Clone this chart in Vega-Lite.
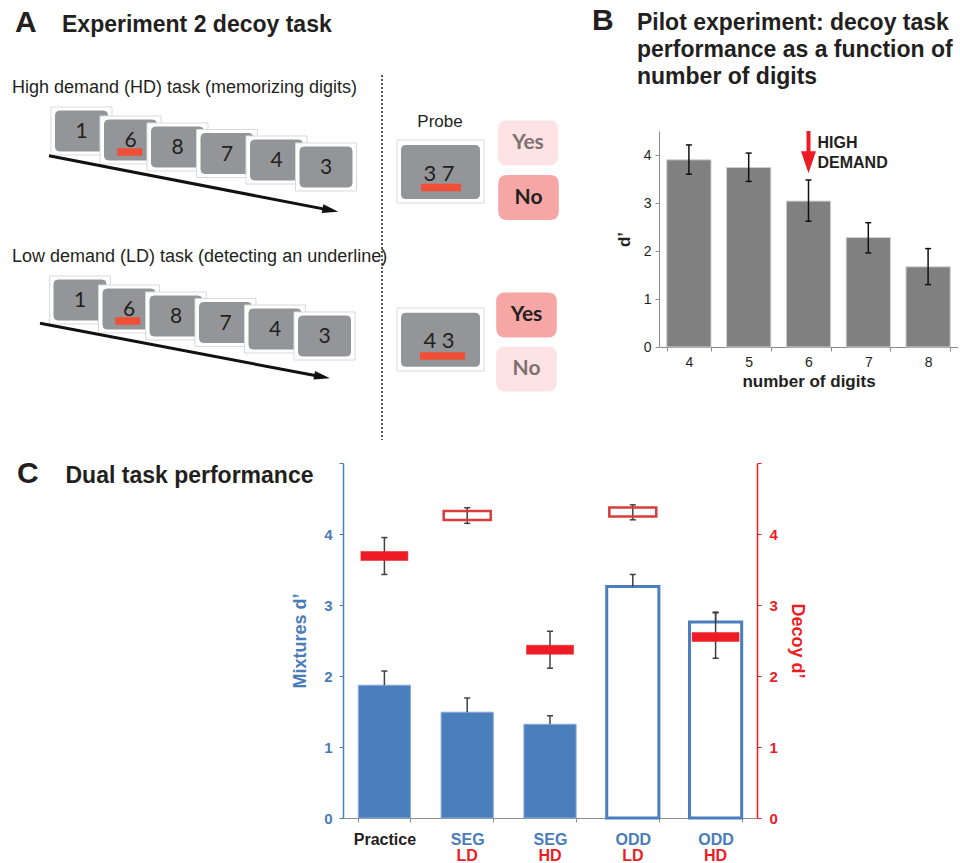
{
  "$schema": "https://vega.github.io/schema/vega-lite/v6.json",
  "padding": 0,
  "background": "white",
  "align": "each",
  "spacing": 0,
  "config": {
    "view": {"stroke": null},
    "font": "Liberation Sans",
    "tick": {"opacity": 1},
    "point": {"opacity": 1},
    "axis": {"grid": false, "labelFont": "Liberation Sans", "titleFont": "Liberation Sans"}
  },
  "vconcat": [
    {
      "hconcat": [
        {
          "width": 659,
          "height": 457.5,
          "encoding": {
            "x": {"field": "x", "type": "quantitative", "scale": {"domain": [0, 659], "nice": false, "zero": false}, "axis": null},
            "y": {"field": "y", "type": "quantitative", "scale": {"domain": [0, 457.5], "nice": false, "zero": false, "reverse": true}, "axis": null}
          },
          "layer": [
            {
              "data": {"values": [{"x": 15, "y": 32, "t": "A"}, {"x": 592, "y": 29.5, "t": "B"}]},
              "mark": {"type": "text", "align": "left", "baseline": "alphabetic", "fontSize": 30, "fontWeight": "bold", "color": "#231f20"},
              "encoding": {"text": {"field": "t"}}
            },
            {
              "data": {"values": [
                {"x": 62, "y": 31.5, "t": "Experiment 2 decoy task"},
                {"x": 637, "y": 29.5, "t": "Pilot experiment: decoy task"},
                {"x": 637, "y": 56.5, "t": "performance as a function of"},
                {"x": 637, "y": 83.5, "t": "number of digits"}
              ]},
              "mark": {"type": "text", "align": "left", "baseline": "alphabetic", "fontSize": 23, "fontWeight": "bold", "color": "#231f20"},
              "encoding": {"text": {"field": "t"}}
            },
            {
              "data": {"values": [
                {"x": 12, "y": 92.5, "t": "High demand (HD) task (memorizing digits)"},
                {"x": 12, "y": 262.3, "t": "Low demand (LD) task (detecting an underline)"}
              ]},
              "mark": {"type": "text", "align": "left", "baseline": "alphabetic", "fontSize": 18, "color": "#231f20"},
              "encoding": {"text": {"field": "t"}}
            },
            {
              "data": {"values": [{"x": 440, "y": 127, "t": "Probe"}]},
              "mark": {"type": "text", "align": "center", "baseline": "alphabetic", "fontSize": 17, "color": "#231f20"},
              "encoding": {"text": {"field": "t"}}
            },
            {
              "data": {"values": [{"x": 382, "y": 75, "y2": 440}]},
              "mark": {"type": "rule", "color": "#231f20", "strokeWidth": 1.5, "strokeDash": [2, 2]},
              "encoding": {"y2": {"field": "y2"}}
            },
            {
              "data": {"values": [
                {"x": 81.5, "y": 131, "part": "frame"}, {"x": 81.5, "y": 131, "part": "face"},
                {"x": 130.5, "y": 140, "part": "frame"}, {"x": 130.5, "y": 140, "part": "face"},
                {"x": 177.5, "y": 147, "part": "frame"}, {"x": 177.5, "y": 147, "part": "face"},
                {"x": 227, "y": 153.5, "part": "frame"}, {"x": 227, "y": 153.5, "part": "face"},
                {"x": 276.5, "y": 160, "part": "frame"}, {"x": 276.5, "y": 160, "part": "face"},
                {"x": 326, "y": 167, "part": "frame"}, {"x": 326, "y": 167, "part": "face"},
                {"x": 80, "y": 300, "part": "frame"}, {"x": 80, "y": 300, "part": "face"},
                {"x": 129, "y": 309, "part": "frame"}, {"x": 129, "y": 309, "part": "face"},
                {"x": 176, "y": 316, "part": "frame"}, {"x": 176, "y": 316, "part": "face"},
                {"x": 225.5, "y": 322.5, "part": "frame"}, {"x": 225.5, "y": 322.5, "part": "face"},
                {"x": 275, "y": 329, "part": "frame"}, {"x": 275, "y": 329, "part": "face"},
                {"x": 324.5, "y": 336, "part": "frame"}, {"x": 324.5, "y": 336, "part": "face"}
              ]},
              "mark": {"type": "point", "filled": true, "opacity": 1, "size": 4096, "strokeWidth": 1},
              "encoding": {
                "shape": {"field": "part", "type": "nominal", "legend": null, "scale": {"domain": ["frame", "face"], "range": ["M-0.953,-0.75H0.953V0.75H-0.953Z", "M-0.6875,-0.625H0.6875Q0.8125,-0.625 0.8125,-0.5V0.5Q0.8125,0.625 0.6875,0.625H-0.6875Q-0.8125,0.625 -0.8125,0.5V-0.5Q-0.8125,-0.625 -0.6875,-0.625Z"]}},
                "fill": {"field": "part", "type": "nominal", "legend": null, "scale": {"domain": ["frame", "face"], "range": ["#ffffff", "#939598"]}},
                "stroke": {"field": "part", "type": "nominal", "legend": null, "scale": {"domain": ["frame", "face"], "range": ["#d9d9d9", "#939598"]}}
              }
            },
            {
              "data": {"values": [
                {"x": 81.5, "y": 132, "t": "1"}, {"x": 130.5, "y": 141, "t": "6"}, {"x": 177.5, "y": 148, "t": "8"},
                {"x": 227, "y": 154.5, "t": "7"}, {"x": 276.5, "y": 161, "t": "4"}, {"x": 326, "y": 168, "t": "3"},
                {"x": 80, "y": 301, "t": "1"}, {"x": 129, "y": 310, "t": "6"}, {"x": 176, "y": 317, "t": "8"},
                {"x": 225.5, "y": 323.5, "t": "7"}, {"x": 275, "y": 330, "t": "4"}, {"x": 324.5, "y": 337, "t": "3"}
              ]},
              "mark": {"type": "text", "align": "center", "baseline": "middle", "fontSize": 21, "font": "Lato", "color": "#231f20"},
              "encoding": {"text": {"field": "t"}}
            },
            {
              "data": {"values": [
                {"x": 440.5, "y": 171.5}, {"x": 440.5, "y": 339.5}
              ]},
              "mark": {"type": "point", "filled": true, "opacity": 1, "size": 9216, "fill": "#ffffff", "stroke": "#d9d9d9", "strokeWidth": 1, "shape": "M-0.906,-0.656H0.906V0.656H-0.906Z"}
            },
            {
              "data": {"values": [
                {"x": 440.5, "y": 172}, {"x": 440.5, "y": 339.7}
              ]},
              "mark": {"type": "point", "filled": true, "opacity": 1, "size": 9216, "fill": "#939598", "strokeWidth": 0, "shape": "M-0.719,-0.5625H0.719Q0.823,-0.5625 0.823,-0.458V0.458Q0.823,0.5625 0.719,0.5625H-0.719Q-0.823,0.5625 -0.823,0.458V-0.458Q-0.823,-0.5625 -0.719,-0.5625Z"}
            },
            {
              "data": {"values": [
                {"x": 439, "y": 174, "t": "3 7"}, {"x": 439, "y": 341, "t": "4 3"}
              ]},
              "mark": {"type": "text", "align": "center", "baseline": "middle", "fontSize": 22, "font": "Lato", "color": "#231f20"},
              "encoding": {"text": {"field": "t"}}
            },
            {
              "data": {"values": [
                {"x": 117.3, "x2": 142.3, "y": 152},
                {"x": 115.3, "x2": 140.3, "y": 321},
                {"x": 421, "x2": 461, "y": 187.5},
                {"x": 420, "x2": 465, "y": 356}
              ]},
              "mark": {"type": "rule", "color": "#f04e37", "strokeWidth": 7.5, "strokeCap": "butt"},
              "encoding": {"x2": {"field": "x2"}}
            },
            {
              "data": {"values": [
                {"x": 49, "y": 155.7, "x2": 331, "y2": 210.4},
                {"x": 40, "y": 323.3, "x2": 323, "y2": 377}
              ]},
              "mark": {"type": "rule", "color": "#111111", "strokeWidth": 3},
              "encoding": {"x2": {"field": "x2"}, "y2": {"field": "y2"}}
            },
            {
              "data": {"values": [
                {"x": 330.4, "y": 210.2}, {"x": 322.1, "y": 376.8}
              ]},
              "mark": {"type": "point", "filled": true, "opacity": 1, "size": 256, "color": "#111111", "angle": 11, "shape": "M1,0L-1,-0.55L-1,0.55Z"}
            },
            {
              "data": {"values": [
                {"x": 528, "y": 143, "t": "Yes", "sel": false},
                {"x": 528.5, "y": 197.5, "t": "No", "sel": true},
                {"x": 526.5, "y": 315, "t": "Yes", "sel": true},
                {"x": 526.5, "y": 369, "t": "No", "sel": false}
              ]},
              "layer": [
                {
                  "mark": {"type": "point", "filled": true, "opacity": 1, "size": 4096, "strokeWidth": 0, "shape": "M-0.667,-0.703H0.667Q0.947,-0.703 0.947,-0.423V0.423Q0.947,0.703 0.667,0.703H-0.667Q-0.947,0.703 -0.947,0.423V-0.423Q-0.947,-0.703 -0.667,-0.703Z"},
                  "encoding": {"fill": {"condition": {"test": "datum.sel", "value": "#f7a6a6"}, "value": "#fde3e3"}}
                },
                {
                  "mark": {"type": "text", "align": "center", "baseline": "middle", "fontSize": 21, "font": "Lato", "fontWeight": "bold"},
                  "encoding": {"text": {"field": "t"}, "color": {"condition": {"test": "datum.sel", "value": "#231f20"}, "value": "#7d7272"}}
                }
              ]
            }
          ]
        },
        {
          "vconcat": [
            {
              "width": 299,
              "height": 131,
              "data": {"values": [{}]},
              "mark": {"type": "text"},
              "encoding": {"text": {"value": ""}}
            },
            {
              "width": 299,
              "height": 216,
              "data": {"values": [
                {"n": "4", "d": 3.9, "lo": 3.6, "hi": 4.21},
                {"n": "5", "d": 3.74, "lo": 3.45, "hi": 4.04},
                {"n": "6", "d": 3.04, "lo": 2.62, "hi": 3.48},
                {"n": "7", "d": 2.28, "lo": 1.96, "hi": 2.59},
                {"n": "8", "d": 1.67, "lo": 1.3, "hi": 2.05}
              ]},
              "encoding": {
                "x": {"field": "n", "type": "ordinal", "title": "number of digits", "scale": {"paddingInner": 0.26, "paddingOuter": 0.13},
                  "axis": {"labelAngle": 0, "labelFontSize": 14, "labelColor": "#231f20", "titleFontSize": 17, "titleFontWeight": "bold", "titleColor": "#231f20", "tickBand": "extent", "tickSize": 4, "domainColor": "#8c8c8c", "tickColor": "#8c8c8c", "labelPadding": 4, "titlePadding": 4}}
              },
              "layer": [
                {
                  "mark": {"type": "bar", "color": "#808080", "stroke": "#d0d0d0", "strokeWidth": 1},
                  "encoding": {"y": {"field": "d", "type": "quantitative", "title": "d’", "scale": {"domain": [0, 4.5], "nice": false},
                    "axis": {"values": [0, 0.5, 1, 1.5, 2, 2.5, 3, 3.5, 4, 4.5], "labelExpr": "datum.value % 1 === 0 ? format(datum.value, 'd') : ''", "labelFontSize": 14, "labelColor": "#231f20", "titleFontSize": 17, "titleFontWeight": "bold", "titleColor": "#231f20", "tickSize": 4, "domainColor": "#8c8c8c", "tickColor": "#8c8c8c", "labelPadding": 4, "titlePadding": 10}}}
                },
                {
                  "mark": {"type": "errorbar", "color": "#111111", "thickness": 1.5, "ticks": {"size": 6, "thickness": 1.5, "color": "#111111", "opacity": 1}},
                  "encoding": {"y": {"field": "lo", "type": "quantitative", "title": "d’"}, "y2": {"field": "hi"}}
                },
                {
                  "data": {"values": [{"n": "6", "top": 4.5, "bot": 3.86}]},
                  "mark": {"type": "rule", "color": "#ed1c24", "strokeWidth": 4},
                  "encoding": {"y": {"field": "top", "type": "quantitative", "title": "d’"}, "y2": {"field": "bot"}}
                },
                {
                  "data": {"values": [{"n": "6", "tip": 3.85}]},
                  "mark": {"type": "point", "filled": true, "opacity": 1, "size": 484, "color": "#ed1c24", "shape": "M-0.68,-1L0.68,-1L0,1Z"},
                  "encoding": {"y": {"field": "tip", "type": "quantitative", "title": "d’"}}
                },
                {
                  "data": {"values": [{"n": "6", "v": 4.14, "t": "HIGH"}, {"n": "6", "v": 3.72, "t": "DEMAND"}]},
                  "mark": {"type": "text", "align": "left", "baseline": "alphabetic", "dx": 9, "fontSize": 16, "fontWeight": "bold", "color": "#231f20"},
                  "encoding": {"y": {"field": "v", "type": "quantitative", "title": "d’"}, "text": {"field": "t"}}
                }
              ]
            }
          ],
          "spacing": 0,
          "bounds": "flush",
          "align": "each"
        }
      ],
      "spacing": 0,
      "bounds": "flush",
      "align": "each"
    },
    {
      "hconcat": [
        {
          "width": 343,
          "height": 355,
          "data": {"values": [{"x": 17, "y": 19.5, "t": "C", "s": "big"}, {"x": 65.5, "y": 20, "t": "Dual task performance", "s": "head"}]},
          "encoding": {
            "x": {"field": "x", "type": "quantitative", "scale": {"domain": [0, 343], "nice": false, "zero": false}, "axis": null},
            "y": {"field": "y", "type": "quantitative", "scale": {"domain": [0, 355], "nice": false, "zero": false, "reverse": true}, "axis": null},
            "text": {"field": "t"}
          },
          "layer": [
            {
              "transform": [{"filter": "datum.s === 'big'"}],
              "mark": {"type": "text", "align": "left", "baseline": "alphabetic", "fontSize": 30, "fontWeight": "bold", "color": "#231f20"}
            },
            {
              "transform": [{"filter": "datum.s === 'head'"}],
              "mark": {"type": "text", "align": "left", "baseline": "alphabetic", "fontSize": 23, "fontWeight": "bold", "color": "#231f20"}
            }
          ]
        },
        {
          "width": 414,
          "height": 355,
          "data": {"values": [
            {"cond": "Practice", "mix": 1.87, "mixhi": 2.07, "dec": 3.69, "declo": 3.43, "dechi": 3.95},
            {"cond": "SEG LD", "mix": 1.49, "mixhi": 1.69, "dec": 4.26, "declo": 4.15, "dechi": 4.37},
            {"cond": "SEG HD", "mix": 1.32, "mixhi": 1.44, "dec": 2.37, "declo": 2.11, "dechi": 2.63},
            {"cond": "ODD LD", "mix": 3.26, "mixhi": 3.43, "dec": 4.31, "declo": 4.2, "dechi": 4.41},
            {"cond": "ODD HD", "mix": 2.76, "mixhi": 2.89, "dec": 2.55, "declo": 2.25, "dechi": 2.9}
          ]},
          "layer": [
            {
              "encoding": {
                "x": {"field": "cond", "type": "nominal", "sort": null, "title": null, "scale": {"paddingInner": 0.37, "paddingOuter": 0.185},
                  "axis": {"orient": "bottom", "labelAngle": 0, "labelExpr": "datum.value ? split(datum.value, ' ')[0] : ''", "labelFontSize": 16, "labelFontWeight": "bold",
                    "labelColor": {"condition": {"test": "datum.value === 'Practice'", "value": "#231f20"}, "value": "#4a7cb9"},
                    "tickBand": "extent", "tickSize": 4, "domainColor": "#8c8c8c", "tickColor": "#8c8c8c", "labelPadding": 9}}
              },
              "layer": [
                {
                  "mark": {"type": "bar"},
                  "encoding": {
                    "y": {"field": "mix", "type": "quantitative", "title": "Mixtures d’", "scale": {"domain": [0, 5], "nice": false},
                      "axis": {"orient": "left", "values": [0, 0.5, 1, 1.5, 2, 2.5, 3, 3.5, 4, 4.5, 5], "labelExpr": "datum.value % 1 === 0 && datum.value < 5 ? format(datum.value, 'd') : ''", "labelFontSize": 15, "labelFontWeight": "bold", "labelColor": "#4a7cb9", "titleFontSize": 18, "titleFontWeight": "bold", "titleColor": "#4a7cb9", "tickSize": 4, "domainColor": "#4a7ebf", "tickColor": "#4a7ebf", "domainWidth": 1.5, "labelPadding": 7, "titlePadding": 14}},
                    "fill": {"condition": {"test": "indexof(datum.cond, 'ODD') === 0", "value": "#ffffff"}, "value": "#4b7ebd"},
                    "stroke": {"condition": {"test": "indexof(datum.cond, 'ODD') === 0", "value": "#4b7ebd"}, "value": "#86aad8"},
                    "strokeWidth": {"condition": {"test": "indexof(datum.cond, 'ODD') === 0", "value": 3}, "value": 1}
                  }
                },
                {
                  "mark": {"type": "rule", "color": "#404040", "strokeWidth": 1.5},
                  "encoding": {"y": {"field": "mix", "type": "quantitative", "title": "Mixtures d’"}, "y2": {"field": "mixhi"}}
                },
                {
                  "mark": {"type": "tick", "color": "#404040", "thickness": 1.5, "size": 6, "opacity": 1},
                  "encoding": {"y": {"field": "mixhi", "type": "quantitative", "title": "Mixtures d’"}}
                }
              ]
            },
            {
              "encoding": {
                "x": {"field": "cond", "type": "nominal", "sort": null, "title": null,
                  "axis": {"orient": "bottom", "labelAngle": 0, "labelExpr": "datum.value && indexof(datum.value, ' ') > 0 ? split(datum.value, ' ')[1] : ''", "labelFontSize": 16, "labelFontWeight": "bold", "labelColor": "#ed1c24", "domain": false, "ticks": false, "labelPadding": 29}}
              },
              "layer": [
                {
                  "mark": {"type": "errorbar", "color": "#404040", "thickness": 1.5, "ticks": {"size": 6, "thickness": 1.5, "color": "#404040", "opacity": 1}},
                  "encoding": {"y": {"field": "declo", "type": "quantitative", "title": "Decoy d’", "scale": {"domain": [0, 5], "nice": false}}, "y2": {"field": "dechi"}}
                },
                {
                  "mark": {"type": "tick", "thickness": 9, "size": 47, "opacity": 1},
                  "encoding": {
                    "y": {"field": "dec", "type": "quantitative", "title": "Decoy d’", "scale": {"domain": [0, 5], "nice": false},
                      "axis": {"orient": "right", "values": [0, 0.5, 1, 1.5, 2, 2.5, 3, 3.5, 4, 4.5, 5], "labelExpr": "datum.value % 1 === 0 && datum.value < 5 ? format(datum.value, 'd') : ''", "labelFontSize": 15, "labelFontWeight": "bold", "labelColor": "#ed1c24", "titleFontSize": 18, "titleFontWeight": "bold", "titleColor": "#ed1c24", "tickSize": 4, "domainColor": "#ed1c24", "tickColor": "#ed1c24", "domainWidth": 1.5, "labelPadding": 8, "titlePadding": 10}},
                    "fill": {"condition": {"test": "indexof(datum.cond, 'LD') > 0", "value": "transparent"}, "value": "#ed1c24"},
                    "stroke": {"condition": {"test": "indexof(datum.cond, 'LD') > 0", "value": "#dc3b3b"}, "value": "#ed1c24"},
                    "strokeWidth": {"condition": {"test": "indexof(datum.cond, 'LD') > 0", "value": 2.5}, "value": 0.5}
                  }
                }
              ]
            }
          ],
          "resolve": {"scale": {"y": "independent"}, "axis": {"x": "independent", "y": "independent"}}
        }
      ],
      "spacing": 0,
      "bounds": "flush",
      "align": "each"
    }
  ]
}
